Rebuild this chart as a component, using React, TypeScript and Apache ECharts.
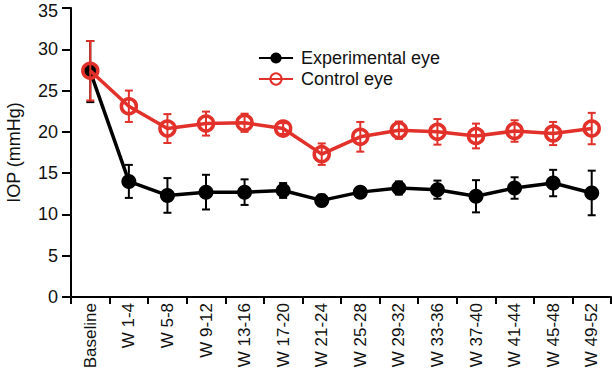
import React, { useEffect, useRef } from "react";
import * as echarts from "echarts";

const categories = ["Baseline", "W 1-4", "W 5-8", "W 9-12", "W 13-16", "W 17-20", "W 21-24", "W 25-28", "W 29-32", "W 33-36", "W 37-40", "W 41-44", "W 45-48", "W 49-52"];
const expMean = [27.3, 14.0, 12.3, 12.7, 12.7, 12.9, 11.7, 12.7, 13.2, 13.0, 12.2, 13.2, 13.8, 12.6];
const expErr = [3.7, 2.0, 2.1, 2.1, 1.55, 0.9, 0.7, 0.6, 0.8, 1.1, 1.95, 1.3, 1.6, 2.7];
const ctrlMean = [27.4, 23.1, 20.4, 21.0, 21.1, 20.4, 17.3, 19.4, 20.2, 20.0, 19.5, 20.1, 19.8, 20.4];
const ctrlErr = [3.6, 1.9, 1.75, 1.45, 1.1, 0.65, 1.3, 1.8, 1.05, 1.55, 1.5, 1.3, 1.4, 1.9];
const yTicks = { min: 0, max: 35, interval: 5 };

const RED = "#e2312a";
const BLACK = "#000000";
const FONT = "Arial, 'Liberation Sans', sans-serif";

function errorSeries(mean: number[], err: number[], color: string, z: number) {
  return {
    type: "custom",
    z,
    silent: true,
    data: mean.map((m, i) => [i, m - err[i], m + err[i]]),
    renderItem: (params: any, api: any) => {
      const x = api.value(0);
      const lo = api.coord([x, api.value(1)]);
      const hi = api.coord([x, api.value(2)]);
      const cw = 4;
      const style = { stroke: color, lineWidth: 2 };
      return {
        type: "group",
        children: [
          { type: "line", shape: { x1: lo[0], y1: lo[1], x2: hi[0], y2: hi[1] }, style },
          { type: "line", shape: { x1: lo[0] - cw, y1: lo[1], x2: lo[0] + cw, y2: lo[1] }, style },
          { type: "line", shape: { x1: hi[0] - cw, y1: hi[1], x2: hi[0] + cw, y2: hi[1] }, style },
        ],
      };
    },
  };
}

export default function App() {
  const ref = useRef<HTMLDivElement>(null);
  useEffect(() => {
    if (!ref.current) return;
    const chart = echarts.init(ref.current, null, { renderer: "svg" });
    chart.setOption({
      animation: false,
      backgroundColor: "#ffffff",
      textStyle: { fontFamily: FONT },
      grid: { left: 71, right: 1, top: 8, bottom: 75, containLabel: false, outerBoundsMode: "none" },
      legend: {
        orient: "vertical",
        left: 253,
        top: 44,
        itemWidth: 34,
        itemHeight: 14,
        itemGap: 3,
        textStyle: { fontSize: 18, color: "#111", fontFamily: FONT, padding: [0, 0, 0, 3] },
        data: ["Experimental eye", "Control eye"],
      },
      xAxis: {
        type: "category",
        data: categories,
        boundaryGap: true,
        axisLine: { lineStyle: { color: BLACK, width: 2 } },
        axisTick: { show: true, length: 7, lineStyle: { color: BLACK, width: 2 } },
        axisLabel: { rotate: 90, fontSize: 17, color: "#111", margin: 6, fontFamily: FONT },
      },
      yAxis: {
        type: "value",
        min: yTicks.min,
        max: yTicks.max,
        interval: yTicks.interval,
        name: "IOP (mmHg)",
        nameLocation: "middle",
        nameRotate: 90,
        nameGap: 48,
        nameTextStyle: { fontSize: 18, color: "#111", fontFamily: FONT },
        splitLine: { show: false },
        axisLine: { show: true, lineStyle: { color: BLACK, width: 2 } },
        axisTick: { show: true, length: 9, lineStyle: { color: BLACK, width: 2 } },
        axisLabel: {
          fontSize: 18,
          color: "#111",
          margin: 13,
          fontFamily: FONT,
          formatter: (v: number) => (v === yTicks.max ? "{top|" + v + "}" : String(v)),
          rich: { top: { fontSize: 18, color: "#111", fontFamily: FONT, padding: [6, 0, 0, 0] } },
        },
      },
      series: [
        errorSeries(expMean, expErr, BLACK, 2),
        {
          name: "Experimental eye",
          type: "line",
          z: 3,
          data: expMean,
          symbol: "circle",
          symbolSize: 15,
          lineStyle: { color: BLACK, width: 3.5 },
          itemStyle: { color: BLACK },
        },
        errorSeries(ctrlMean, ctrlErr, RED, 4),
        {
          name: "Control eye",
          type: "line",
          z: 5,
          data: ctrlMean,
          symbol: "circle",
          symbolSize: 15,
          lineStyle: { color: RED, width: 3.5 },
          itemStyle: { color: "rgba(0,0,0,0)", borderColor: RED, borderWidth: 3.5 },
        },
      ],
    });
    return () => chart.dispose();
  }, []);
  return <div ref={ref} style={{ position: "fixed", left: 0, top: 0, width: 612, height: 372 }} />;
}
